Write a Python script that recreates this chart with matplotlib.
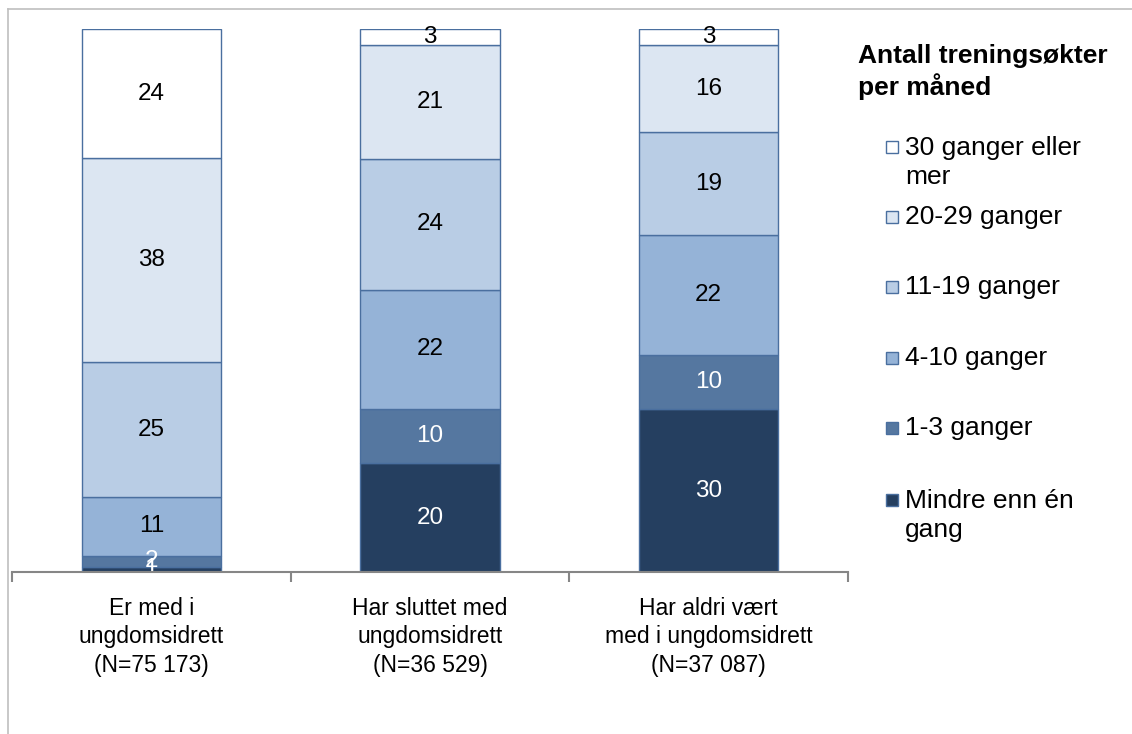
import numpy as np
import matplotlib.pyplot as plt
from matplotlib.patches import Rectangle
from matplotlib.lines import Line2D

plt.rcParams['font.family'] = ['Liberation Sans', 'DejaVu Sans']

categories = ['Er med i\nungdomsidrett\n(N=75 173)',
              'Har sluttet med\nungdomsidrett\n(N=36 529)',
              'Har aldri vært\nmed i ungdomsidrett\n(N=37 087)']
series = ['Mindre enn én\ngang', '1-3 ganger', '4-10 ganger',
          '11-19 ganger', '20-29 ganger', '30 ganger eller\nmer']
values = {
    'Mindre enn én\ngang': [1, 20, 30],
    '1-3 ganger': [2, 10, 10],
    '4-10 ganger': [11, 22, 22],
    '11-19 ganger': [25, 24, 19],
    '20-29 ganger': [38, 21, 16],
    '30 ganger eller\nmer': [24, 3, 3],
}
colors = ['#253F60', '#5577A0', '#95B3D7', '#B9CDE5', '#DCE6F2', '#FFFFFF']
label_colors = ['white', 'white', 'black', 'black', 'black', 'black']

W, H = 1132, 734
fig = plt.figure(figsize=(W / 100, H / 100), dpi=100)
ax = fig.add_axes([12 / W, 1 - 572 / H, 836 / W, 543 / H])

x = np.arange(len(categories))
data = np.array([values[s] for s in series], dtype=float)
totals = data.sum(axis=0)
shares = data / totals * 100  # 100 % stacked

bottom = np.zeros(len(categories))
for i, s in enumerate(series):
    bars = ax.bar(x, shares[i], 0.5, bottom=bottom, color=colors[i],
                  edgecolor='#4A6F9F', linewidth=1.0, zorder=2)
    for j, rect in enumerate(bars):
        ax.text(rect.get_x() + rect.get_width() / 2, bottom[j] + shares[i][j] / 2,
                '%d' % data[i][j], ha='center', va='center', fontsize=17.5,
                color=label_colors[i], zorder=3)
    bottom += shares[i]

ax.set_xlim(-0.5, len(categories) - 0.5)
ax.set_ylim(0, 100)
ax.set_yticks([])
for side in ['top', 'right', 'left']:
    ax.spines[side].set_visible(False)
ax.spines['bottom'].set_color('#868686')
ax.spines['bottom'].set_linewidth(1.5)
ax.spines['bottom'].set_zorder(4)

ax.set_xticks(x)
ax.set_xticklabels(categories, fontsize=16.5, linespacing=1.3)
ax.tick_params(axis='x', which='major', length=0, pad=18)
ax.set_xticks(np.arange(len(categories) + 1) - 0.5, minor=True)
ax.tick_params(axis='x', which='minor', length=7, width=1.5, color='#868686')

# legend drawn by hand so that each handle sits on the first text line
fig.text(858 / W, 1 - 72 / H, 'Antall treningsøkter\nper måned',
         fontsize=19, fontweight='bold', ha='left', va='center', linespacing=1.2)
legend_y = [147, 217, 287, 358, 428, 500]
line_gap = 31
for k, i in enumerate(reversed(range(len(series)))):
    yc = legend_y[k]
    fig.patches.append(Rectangle((886 / W, 1 - (yc + 6) / H), 12 / W, 12 / H,
                                 transform=fig.transFigure, facecolor=colors[i],
                                 edgecolor='#4A6F9F', linewidth=1.0))
    nlines = series[i].count('\n') + 1
    ymid = yc + (nlines - 1) * line_gap / 2
    fig.text(905 / W, 1 - ymid / H, series[i], fontsize=19, ha='left',
             va='center', linespacing=1.3)

# outer frame
fig.add_artist(Line2D([8 / W, 8 / W], [0, 1 - 9 / H], color='#BFBFBF',
                      linewidth=1.2, transform=fig.transFigure))
fig.add_artist(Line2D([8 / W, 1], [1 - 9 / H, 1 - 9 / H], color='#BFBFBF',
                      linewidth=1.2, transform=fig.transFigure))

fig.savefig('out.png', dpi=100)
